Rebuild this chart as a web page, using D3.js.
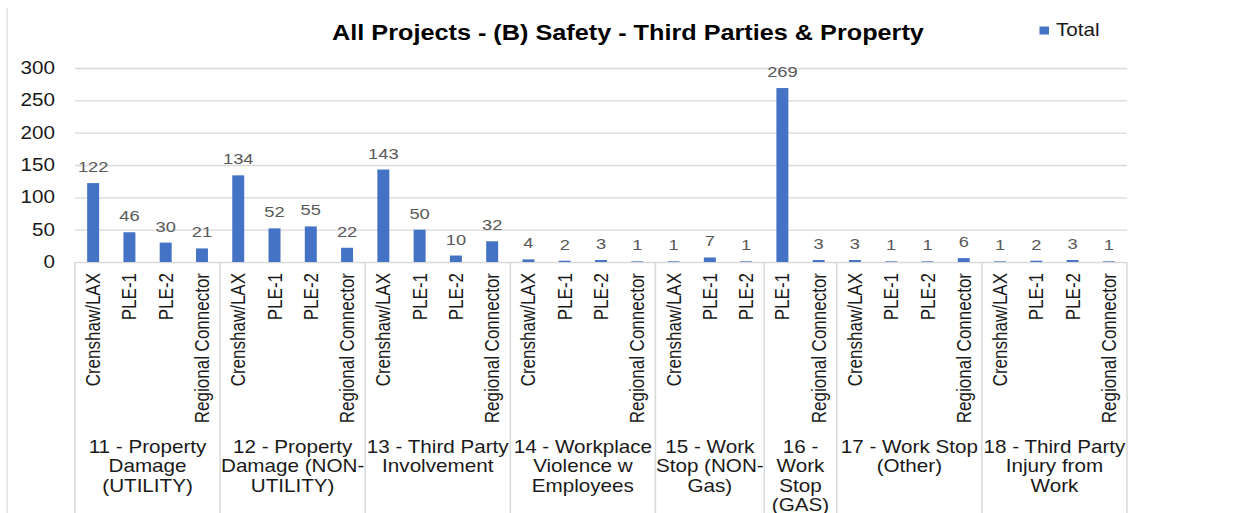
<!DOCTYPE html>
<html>
<head>
<meta charset="utf-8">
<script src="https://cdn.jsdelivr.net/npm/d3@7"></script>
<style>
  body { margin: 0; background: #fff; }
  svg { display: block; }
  text { font-family: "Liberation Sans", Arial, sans-serif; }
</style>
</head>
<body>
<svg id="svg"></svg>
<script>
// category groups, wrapped the way the original chart wraps them
var groups = [
    ["11 - Property", "Damage", "(UTILITY)"],
    ["12 - Property", "Damage (NON-", "UTILITY)"],
    ["13 - Third Party", "Involvement"],
    ["14 - Workplace", "Violence w", "Employees"],
    ["15 - Work", "Stop (NON-", "Gas)"],
    ["16 -", "Work", "Stop", "(GAS)"],
    ["17 - Work Stop", "(Other)"],
    ["18 - Third Party", "Injury from", "Work"]
];
var projects = [
    ["Crenshaw/LAX", "PLE-1", "PLE-2", "Regional Connector"],
    ["Crenshaw/LAX", "PLE-1", "PLE-2", "Regional Connector"],
    ["Crenshaw/LAX", "PLE-1", "PLE-2", "Regional Connector"],
    ["Crenshaw/LAX", "PLE-1", "PLE-2", "Regional Connector"],
    ["Crenshaw/LAX", "PLE-1", "PLE-2"],
    ["PLE-1", "Regional Connector"],
    ["Crenshaw/LAX", "PLE-1", "PLE-2", "Regional Connector"],
    ["Crenshaw/LAX", "PLE-1", "PLE-2", "Regional Connector"]
];
var totals = [
    [122, 46, 30, 21],
    [134, 52, 55, 22],
    [143, 50, 10, 32],
    [4, 2, 3, 1],
    [1, 7, 1],
    [269, 3],
    [3, 1, 1, 6],
    [1, 2, 3, 1]
];
var yTicks = [0, 50, 100, 150, 200, 250, 300];
var title = "All Projects - (B) Safety - Third Parties & Property";
var seriesName = "Total";

!function() {
    // the original picture is stretched sideways, so draw narrow and stretch
    var sx = 1.18, W = 1244 / sx, H = 513;
    var svg = d3.select("#svg").attr("width", 1244).attr("height", H)
        .attr("viewBox", [0, 0, W, H].join(" "))
        .attr("preserveAspectRatio", "none");

    var rows = [];
    groups.forEach(function(g, i) {
        projects[i].forEach(function(p, j) {
            rows.push({g: i, p: p, v: totals[i][j], key: i + "|" + p});
        });
    });

    var x0 = 75 / sx, x1 = 1127 / sx, base = 262;
    var x = d3.scaleBand().domain(rows.map(function(d) { return d.key; }))
        .range([x0, x1]).paddingInner(0.67).paddingOuter(0.335);
    var y = d3.scaleLinear().domain([0, 300]).range([base, 68]);
    var half = (x.step() - x.bandwidth()) / 2;

    // outer left edge of the chart area
    svg.append("line").attr("x1", 7 / sx).attr("x2", 7 / sx).attr("y1", 8).attr("y2", H)
        .attr("stroke", "#d9d9d9").attr("stroke-width", 1);

    // grid + y labels
    var ga = svg.append("g").attr("transform", "translate(" + x0 + ",0)")
        .call(d3.axisLeft(y).tickValues(yTicks).tickSize(-(x1 - x0)).tickPadding(17));
    ga.select(".domain").remove();
    ga.selectAll(".tick line").attr("stroke", "#d9d9d9").attr("stroke-width", 1.3);
    ga.selectAll(".tick text").attr("font-size", 17.5).attr("fill", "#1a1a1a")
        .style("font-family", "'Liberation Sans', Arial, sans-serif");

    // group boxes under the axis
    var edges = [];
    var k = 0;
    groups.forEach(function(g, i) {
        var first = rows[k].key;
        var last = rows[k + projects[i].length - 1].key;
        edges.push({i: i, a: x(first) - half, b: x(last) + x.bandwidth() + half});
        k += projects[i].length;
    });
    var bx = edges.map(function(e) { return e.a; }).concat([edges[edges.length - 1].b]);
    svg.append("g").selectAll("line").data(bx).join("line")
        .attr("x1", function(d) { return d; }).attr("x2", function(d) { return d; })
        .attr("y1", base).attr("y2", H)
        .attr("stroke", "#d9d9d9").attr("stroke-width", 1.3);

    // bars
    svg.append("g").selectAll("rect").data(rows).join("rect")
        .attr("x", function(d) { return x(d.key); })
        .attr("width", x.bandwidth())
        .attr("y", function(d) { return y(d.v); })
        .attr("height", function(d) { return y(0) - y(d.v); })
        .attr("fill", "#4472c4");

    // value labels
    svg.append("g").selectAll("text").data(rows).join("text")
        .attr("x", function(d) { return x(d.key) + x.bandwidth() / 2; })
        .attr("y", function(d) { return y(d.v) - 11; })
        .attr("text-anchor", "middle").attr("font-size", 15.5).attr("fill", "#595959")
        .text(function(d) { return d.v; });

    // project labels, rotated
    svg.append("g").selectAll("text").data(rows).join("text")
        .attr("transform", function(d) {
            return "translate(" + (x(d.key) + x.bandwidth() / 2) + "," + 273 + ") rotate(-90)";
        })
        .attr("text-anchor", "end").attr("dy", "0.35em")
        .attr("font-size", 17).attr("fill", "#1a1a1a")
        .text(function(d) { return d.p; });

    // group labels
    var gl = svg.append("g").selectAll("text").data(edges).join("text")
        .attr("x", function(e) { return (e.a + e.b) / 2; })
        .attr("y", 453)
        .attr("text-anchor", "middle").attr("font-size", 17.5).attr("fill", "#1a1a1a");
    gl.selectAll("tspan").data(function(e) { return groups[e.i]; }).join("tspan")
        .attr("x", function() { var e = d3.select(this.parentNode).datum(); return (e.a + e.b) / 2; })
        .attr("dy", function(d, i) { return i ? 19.5 : 0; })
        .text(function(d) { return d; });

    // title
    svg.append("text").attr("x", 628 / sx).attr("y", 40.5)
        .attr("text-anchor", "middle").attr("font-size", 21.4).attr("font-weight", "bold")
        .attr("fill", "#000").text(title);

    // legend
    svg.append("rect").attr("x", 1039.5 / sx).attr("y", 26.5).attr("width", 9.5 / sx).attr("height", 8)
        .attr("fill", "#4472c4");
    svg.append("text").attr("x", 1056 / sx).attr("y", 36)
        .attr("font-size", 17.5).attr("fill", "#1a1a1a").text(seriesName);
}();
</script>
</body>
</html>
